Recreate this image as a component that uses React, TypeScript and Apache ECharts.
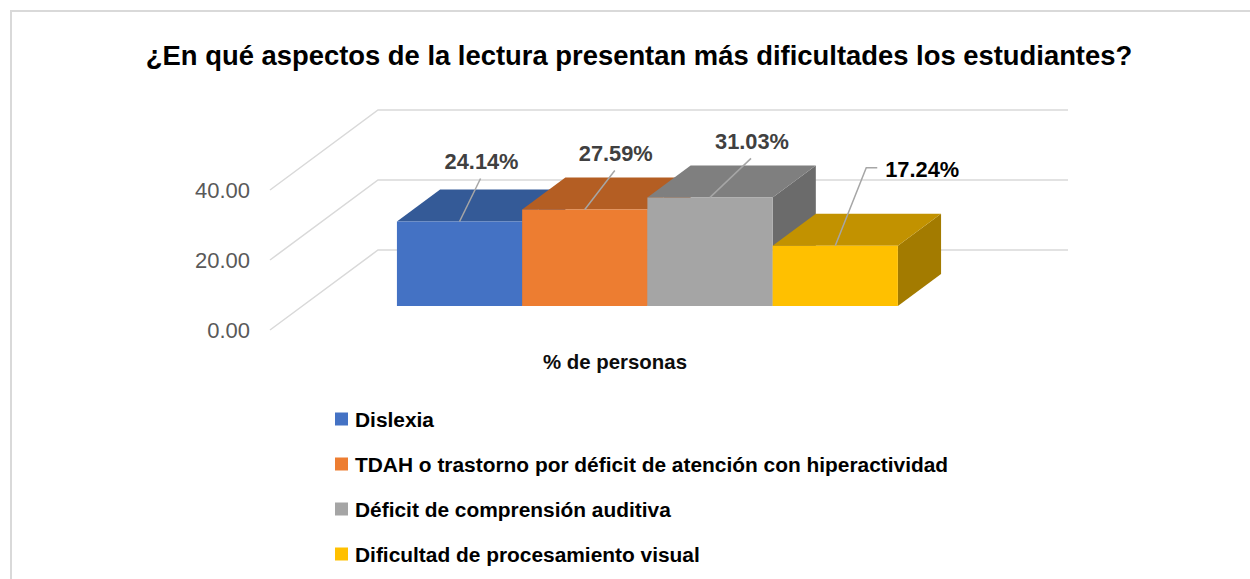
import React, { useEffect, useRef } from 'react';
import * as echarts from 'echarts';

// ---------- data ----------
const TITLE = '¿En qué aspectos de la lectura presentan más dificultades los estudiantes?';
const CATEGORIES = ['% de personas'];
const SERIES_NAMES = [
  'Dislexia',
  'TDAH o trastorno por déficit de atención con hiperactividad',
  'Déficit de comprensión auditiva',
  'Dificultad de procesamiento visual',
];
const SERIES_VALUES = [24.14, 27.59, 31.03, 17.24];
const Y_TICKS = [0, 20, 40];

// ---------- styles / layout ----------
const FRONT = ['#4472C4', '#ED7D31', '#A5A5A5', '#FFC000'];
const TOP = ['#345A97', '#B45E23', '#7F7F7F', '#C29200'];
const SIDE = ['#2B4A80', '#9A4F1D', '#6B6B6B', '#A37B00'];
const LABEL_COLORS = ['#404040', '#404040', '#404040', '#000000'];
// leader line geometry relative to the bar's front-top centre: [dx, dy, horizontal tail]
const LEADERS = [
  [21, -43, 0],
  [30, -39, 0],
  [41, -39, 0],
  [31, -78, 11],
];
const WALL = { x: 108, y: -80 }; // full floor depth projection
const BAR_FRONT = 0.3; // depth fraction of bar front
const BAR_BACK = 0.7; // depth fraction of bar back
const BAR_SPAN = 0.726; // fraction of category band used by all bars
const FAMILY = "'Liberation Sans', Arial, sans-serif";

function fit(text: string, target: number, weight: string): number {
  const c = document.createElement('canvas');
  const ctx = c.getContext('2d');
  if (!ctx) return 16;
  ctx.font = `${weight} 100px ${FAMILY}`;
  const w = ctx.measureText(text).width;
  return Math.round((100 * target) / w * 10) / 10;
}

export default function App() {
  const ref = useRef<HTMLDivElement>(null);

  useEffect(() => {
    if (!ref.current) return;
    const chart = echarts.init(ref.current, undefined, { renderer: 'svg' });

    const titleSize = fit(TITLE, 988, 'bold');
    const legendSize = fit(SERIES_NAMES[1], 592, 'bold');
    const labelSize = fit('24.14%', 74, 'bold');
    const ySize = fit('40.00', 55, 'normal');
    const xSize = fit(CATEGORIES[0], 144, 'bold');

    const n = SERIES_VALUES.length;

    const barSeries = SERIES_VALUES.map((v, i) => ({
      type: 'custom',
      name: SERIES_NAMES[i],
      coordinateSystem: 'cartesian2d',
      z: 3 + i,
      itemStyle: { color: FRONT[i] },
      data: [[0, v]],
      renderItem: (params: any, api: any) => {
        const cat = api.value(0);
        const base = api.coord([cat, 0]);
        const topPt = api.coord([cat, api.value(1)]);
        const band = api.size([1, 0])[0];
        const span = band * BAR_SPAN;
        const w = span / n;
        const fx = WALL.x * BAR_FRONT;
        const fy = WALL.y * BAR_FRONT;
        const dx = WALL.x * (BAR_BACK - BAR_FRONT);
        const dy = WALL.y * (BAR_BACK - BAR_FRONT);
        const x0 = base[0] - span / 2 + i * w + fx;
        const yb = base[1] + fy;
        const yt = topPt[1] + fy;
        const bx = x0 + w / 2;
        const [ldx, ldy, tail] = LEADERS[i];
        const lx = bx + ldx;
        const ly = yt + ldy;
        const linePts = tail
          ? [[bx, yt], [lx, ly], [lx + tail, ly]]
          : [[bx, yt], [lx, ly]];
        const label = (v.toFixed(2)) + '%';
        return {
          type: 'group',
          children: [
            {
              type: 'polygon',
              shape: { points: [[x0 + w, yt], [x0 + w + dx, yt + dy], [x0 + w + dx, yb + dy], [x0 + w, yb]] },
              style: { fill: SIDE[i] },
            },
            {
              type: 'polygon',
              shape: { points: [[x0, yt], [x0 + w, yt], [x0 + w + dx, yt + dy], [x0 + dx, yt + dy]] },
              style: { fill: TOP[i] },
            },
            {
              type: 'rect',
              shape: { x: x0, y: yt, width: w, height: yb - yt },
              style: { fill: FRONT[i] },
            },
            {
              type: 'polyline',
              shape: { points: linePts },
              style: { stroke: '#A6A6A6', lineWidth: 1.5, fill: 'none' },
            },
            {
              type: 'text',
              style: tail
                ? {
                    text: label,
                    x: lx + tail + 8,
                    y: ly + 2,
                    align: 'left',
                    verticalAlign: 'middle',
                    fill: LABEL_COLORS[i],
                    fontSize: labelSize,
                    fontWeight: 'bold',
                    fontFamily: FAMILY,
                  }
                : {
                    text: label,
                    x: lx + 1,
                    y: ly - 17,
                    align: 'center',
                    verticalAlign: 'middle',
                    fill: LABEL_COLORS[i],
                    fontSize: labelSize,
                    fontWeight: 'bold',
                    fontFamily: FAMILY,
                  },
            },
          ],
        };
      },
    }));

    const gridSeries = {
      type: 'custom',
      coordinateSystem: 'cartesian2d',
      z: 1,
      silent: true,
      data: Y_TICKS.map((t) => [0, t]),
      renderItem: (params: any, api: any) => {
        const cs = params.coordSys;
        const y = api.coord([0, api.value(1)])[1];
        return {
          type: 'polyline',
          shape: {
            points: [
              [cs.x, y],
              [cs.x + WALL.x, y + WALL.y],
              [cs.x + cs.width + WALL.x, y + WALL.y],
            ],
          },
          style: { stroke: '#D9D9D9', lineWidth: 1.5, fill: 'none' },
        };
      },
    };

    chart.setOption({
      animation: false,
      backgroundColor: '#ffffff',
      title: {
        text: TITLE,
        left: 639,
        top: 56 - titleSize * 0.6,
        textAlign: 'center',
        padding: 0,
        textStyle: {
          fontSize: titleSize,
          fontWeight: 'bold',
          fontFamily: FAMILY,
          color: '#000000',
          lineHeight: titleSize * 1.2,
        },
      },
      graphic: [
        {
          type: 'rect',
          shape: { x: 11, y: 11, width: 1400, height: 800 },
          style: { fill: 'none', stroke: '#D9D9D9', lineWidth: 2 },
          silent: true,
          z: 0,
        },
      ],
      legend: {
        data: SERIES_NAMES,
        orient: 'vertical',
        left: 335,
        top: 408,
        padding: 0,
        icon: 'rect',
        itemWidth: 13,
        itemHeight: 13,
        itemGap: 23,
        selectedMode: false,
        textStyle: {
          fontSize: legendSize,
          fontWeight: 'bold',
          fontFamily: FAMILY,
          color: '#000000',
          lineHeight: 22,
          padding: [0, 0, 0, 2],
        },
      },
      grid: { left: 270, right: 290, top: 190, bottom: 249 },
      xAxis: {
        type: 'category',
        data: CATEGORIES,
        axisLine: { show: false },
        axisTick: { show: false },
        splitLine: { show: false },
        axisLabel: {
          margin: 22,
          fontSize: xSize,
          fontWeight: 'bold',
          fontFamily: FAMILY,
          color: '#0D0D0D',
        },
      },
      yAxis: {
        type: 'value',
        min: 0,
        max: 40,
        interval: 20,
        axisLine: { show: false },
        axisTick: { show: false },
        splitLine: { show: false },
        axisLabel: {
          margin: 20,
          fontSize: ySize,
          fontFamily: FAMILY,
          color: '#595959',
          formatter: (val: number) => val.toFixed(2),
        },
      },
      series: [gridSeries, ...barSeries],
    });

    return () => {
      chart.dispose();
    };
  }, []);

  return (
    <div
      ref={ref}
      style={{ position: 'fixed', left: 0, top: 0, width: 1250, height: 579, background: '#fff' }}
    />
  );
}
